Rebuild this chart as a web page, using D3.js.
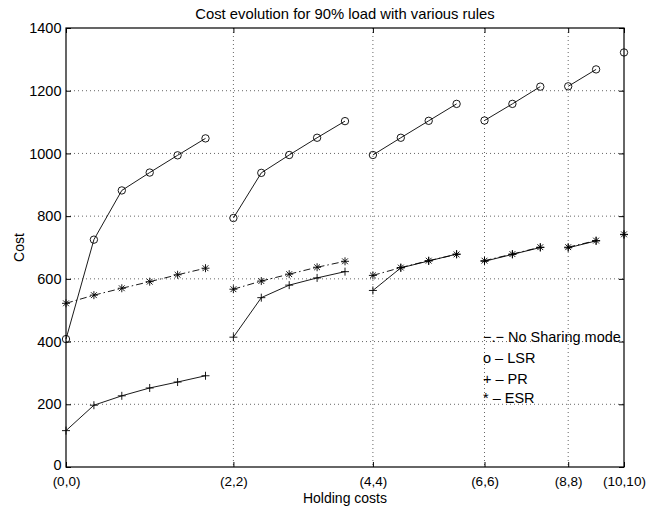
<!DOCTYPE html>
<html>
<head>
<meta charset="utf-8">
<script src="https://cdnjs.cloudflare.com/ajax/libs/d3/7.8.5/d3.min.js"></script>
<style>
  body { margin: 0; background: #fff; }
  text { font-family: "Liberation Sans", Arial, sans-serif; fill: #000; }
</style>
</head>
<body>
<div id="chart"></div>
<script>
// x labels and where they sit on the point index
var tickLabels = ["(0,0)", "(2,2)", "(4,4)", "(6,6)", "(8,8)", "(10,10)"];
var tickIndex = [0, 6, 11, 15, 18, 20];
// number of points in each connected piece
var groupSizes = [6, 5, 4, 3, 2, 1];

var lsr = [408, 725, 882, 939, 994, 1048, 794, 938, 995, 1050, 1103, 995, 1050, 1104, 1158, 1105, 1158, 1213, 1214, 1268, 1322];
var esr = [522, 548, 570, 591, 613, 634, 567, 593, 615, 637, 656, 611, 636, 658, 678, 658, 679, 701, 701, 722, 742];
var pr  = [116, 197, 227, 252, 271, 291, 414, 540, 580, 603, 623, 563, 635, 657, 679, 656, 678, 700, 699, 721, 741];

var yTicks = [0, 200, 400, 600, 800, 1000, 1200, 1400];
var legendLines = ["\u2212.\u2212 No Sharing mode", "o \u2013 LSR", "+ \u2013 PR", "* \u2013 ESR"];

var svgWidth = 647, svgHeight = 510;
var margin = { top: 28, right: 23, bottom: 43, left: 66 };
var width = svgWidth - margin.left - margin.right;
var height = svgHeight - margin.top - margin.bottom;

var svg = d3.select("#chart").append("svg")
  .attr("width", svgWidth)
  .attr("height", svgHeight);

var g = svg.append("g")
  .attr("transform", `translate(${margin.left}, ${margin.top})`);

var x = d3.scaleLinear().domain([0, 20]).range([0, width]);
var y = d3.scaleLinear().domain([0, 1400]).range([height, 0]);

// dotted grid
g.selectAll("line.gx").data(tickIndex.slice(1, -1)).enter().append("line")
  .attr("x1", d => x(d)).attr("x2", d => x(d))
  .attr("y1", 0).attr("y2", height)
  .attr("stroke", "#666").attr("stroke-width", 1).attr("stroke-dasharray", "1,3");
g.selectAll("line.gy").data(yTicks.slice(1, -1)).enter().append("line")
  .attr("x1", 0).attr("x2", width)
  .attr("y1", d => y(d)).attr("y2", d => y(d))
  .attr("stroke", "#666").attr("stroke-width", 1).attr("stroke-dasharray", "1,3");

// axes, ticks pointing inward on every side
var xAxis = d3.axisBottom(x).tickValues(tickIndex).tickFormat((d, i) => tickLabels[i])
  .tickSizeInner(-5).tickSizeOuter(0).tickPadding(9.5);
var yAxis = d3.axisLeft(y).tickValues(yTicks).tickFormat(d3.format("d"))
  .tickSizeInner(-5).tickSizeOuter(0).tickPadding(4.5);

var gx = g.append("g").attr("transform", `translate(0, ${height})`).call(xAxis);
var gy = g.append("g").call(yAxis);
g.append("g").call(d3.axisTop(x).tickValues(tickIndex).tickFormat("").tickSizeInner(-5).tickSizeOuter(0));
g.append("g").attr("transform", `translate(${width}, 0)`)
  .call(d3.axisRight(y).tickValues(yTicks).tickFormat("").tickSizeInner(-5).tickSizeOuter(0));

gx.selectAll(".tick text").style("font-size", "13.5px");
gy.selectAll(".tick text").style("font-size", "14.5px");
// nudge the bottom "0" up a little so it clears "(0,0)"
gy.selectAll(".tick text").filter(d => d === 0).attr("dy", "0.2em");
g.selectAll(".domain").remove();
g.selectAll(".tick line").attr("stroke", "#000");

g.append("rect")
  .attr("width", width).attr("height", height)
  .attr("fill", "none").attr("stroke", "#000").attr("stroke-width", 1.2);

// split each series into its pieces
function pieces(values) {
  var out = [], start = 0;
  groupSizes.forEach(function(n) {
    out.push(d3.range(start, start + n).map(i => [i, values[i]]));
    start += n;
  });
  return out;
}

var line = d3.line().x(d => x(d[0])).y(d => y(d[1]));

function drawLines(values, dash) {
  g.append("g").selectAll("path").data(pieces(values)).enter().append("path")
    .attr("d", line)
    .attr("fill", "none")
    .attr("stroke", "#000")
    .attr("stroke-width", 0.9)
    .attr("stroke-dasharray", dash);
}

drawLines(esr, "7,3,1.5,3");
drawLines(pr, null);
drawLines(lsr, null);

// circles
g.append("g").selectAll("circle").data(lsr).enter().append("circle")
  .attr("cx", (d, i) => x(i)).attr("cy", d => y(d))
  .attr("r", 3.7).attr("fill", "none").attr("stroke", "#000").attr("stroke-width", 0.9);

// plus
g.append("g").selectAll("path").data(pr).enter().append("path")
  .attr("transform", (d, i) => `translate(${x(i)}, ${y(d)})`)
  .attr("d", "M-4,0H4M0,-4V4")
  .attr("stroke", "#000").attr("stroke-width", 0.9);

// asterisk
g.append("g").selectAll("path").data(esr).enter().append("path")
  .attr("transform", (d, i) => `translate(${x(i)}, ${y(d)})`)
  .attr("d", "M-4,0H4M0,-4V4M-2.9,-2.9L2.9,2.9M-2.9,2.9L2.9,-2.9")
  .attr("stroke", "#000").attr("stroke-width", 0.9);

// legend written as plain text
var legendY = [313.5, 335, 356, 374.5];
g.append("g").selectAll("text").data(legendLines).enter().append("text")
  .attr("x", 417)
  .attr("y", (d, i) => legendY[i])
  .style("font-size", "14.5px")
  .text(d => d);

// title and axis labels
svg.append("text")
  .attr("x", margin.left + width / 2).attr("y", 18.5)
  .attr("text-anchor", "middle").style("font-size", "14.8px")
  .text("Cost evolution for 90% load with various rules");

svg.append("text")
  .attr("x", margin.left + width / 2).attr("y", 503)
  .attr("text-anchor", "middle").style("font-size", "14px")
  .text("Holding costs");

svg.append("text")
  .attr("transform", `translate(24, ${margin.top + height / 2}) rotate(-90)`)
  .attr("text-anchor", "middle").style("font-size", "14px")
  .text("Cost");
</script>
</body>
</html>
